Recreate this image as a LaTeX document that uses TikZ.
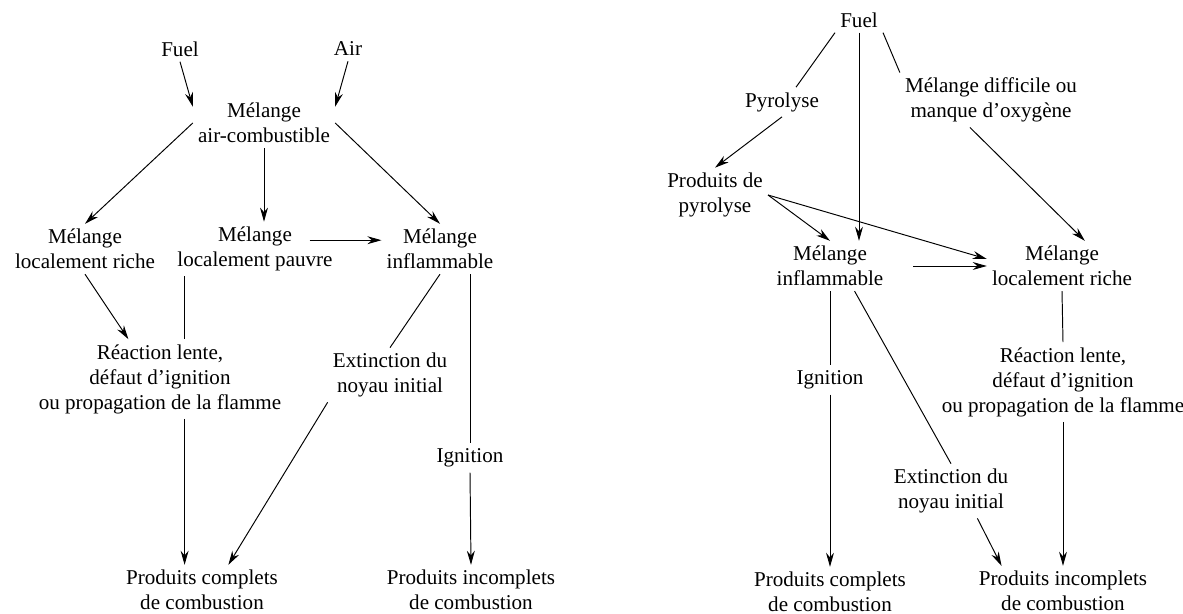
\documentclass[tikz,border=0pt]{standalone}
\usepackage{fontspec}
\setmainfont{Liberation Serif}
\usetikzlibrary{arrows.meta}

\begin{document}
\begin{tikzpicture}[x=0.02cm,y=-0.02cm,
    txt/.style={align=center,inner sep=0pt,outer sep=3pt,font=\fontsize{12pt}{14.2pt}\selectfont},
    trait/.style={line width=0.55pt},
    fleche/.style={trait,-{Stealth[length=8pt,width=4.5pt]}}]
    \useasboundingbox (0,0) rectangle (1183,614);
    % schema de gauche
    \begin{scope}
	\node[txt] (fuelG) at (180,49) {Fuel};
	\node[txt] (air) at (348,49) {Air};
	\node[txt] (melange) at (264,123) {Mélange\\air-combustible};
	\node[txt] (riche) at (85,249) {Mélange\\localement riche};
	\node[txt] (pauvre) at (255,249) {Mélange\\localement pauvre};
	\node[txt] (inflam) at (440,249) {Mélange\\inflammable};
	\node[txt] (reaction) at (160,379) {Réaction lente,\\défaut d’ignition\\ou propagation de la flamme};
	\node[txt] (extinction) at (390,375) {Extinction du\\noyau initial};
	\node[txt] (ignition) at (470,458) {Ignition};
	\node[txt] (complets) at (202,590) {Produits complets\\de combustion};
	\node[txt] (incomplets) at (471,590) {Produits incomplets\\de combustion};
	\draw[fleche] (fuelG.south) -- ([yshift=-5pt]melange.north west);
	\draw[fleche] (air.south) -- ([yshift=-5pt]melange.north east);
	\draw[fleche] (melange.west) -- (riche.north);
	\draw[fleche] (melange.south) -- (melange.south |- pauvre.north);
	\draw[fleche] (melange.east) -- (inflam.north);
	\draw[fleche] ([xshift=-16pt,yshift=5pt]pauvre.east) -- ([yshift=5pt]inflam.west);
	\draw[fleche] (riche.south) -- ([xshift=-18pt]reaction.north);
	\draw[trait] ([xshift=-40pt]pauvre.south) -- ([xshift=-40pt]pauvre.south |- reaction.north);
	\draw[fleche] ([xshift=14pt]reaction.south) -- ([xshift=14pt]reaction.south |- complets.north);
	\draw[trait] (inflam.south) -- (extinction.north);
	\draw[fleche] (extinction.south west) -- ([xshift=15pt]complets.north);
	\draw[trait] (inflam.south -| ignition.north) -- (ignition.north);
	\draw[fleche] (ignition.south) -- (incomplets.north);
    \end{scope}
    % schema de droite
    \begin{scope}
	\node[txt] (fuelD) at (859,20) {Fuel};
	\node[txt] (pyrolyse) at (782,102) {Pyrolyse};
	\node[txt] (difficile) at (991,100) {Mélange difficile ou\\manque d’oxygène};
	\node[txt] (prodpyro) at (715,195) {Produits de\\pyrolyse};
	\node[txt] (inflamD) at (830,266) {Mélange\\inflammable};
	\node[txt] (richeD) at (1062,266) {Mélange\\localement riche};
	\node[txt] (ignitionD) at (830,380) {Ignition};
	\node[txt] (reactionD) at (1063,382) {Réaction lente,\\défaut d’ignition\\ou propagation de la flamme};
	\node[txt] (extinctionD) at (951,491) {Extinction du\\noyau initial};
	\node[txt] (completsD) at (830,592) {Produits complets\\de combustion};
	\node[txt] (incompletsD) at (1063,591) {Produits incomplets\\de combustion};
	\draw[trait] (fuelD.south west) -- ([xshift=8pt]pyrolyse.north);
	\draw[fleche] (fuelD.south) -- (fuelD.south |- inflamD.north);
	\draw[trait] (fuelD.south east) -- (difficile.north west);
	\draw[fleche] (pyrolyse.south) -- (prodpyro.north);
	\draw[fleche] (prodpyro.east) -- (inflamD.north);
	\draw[fleche] (prodpyro.east) -- ([yshift=4pt]richeD.west);
	\draw[fleche] ([xshift=14pt]inflamD.east) -- (richeD.west);
	\draw[fleche] ([xshift=-12pt]difficile.south) -- ([xshift=13pt]richeD.north);
	\draw[trait] (inflamD.south) -- (ignitionD.north);
	\draw[fleche] (ignitionD.south) -- (completsD.north);
	\draw[trait] ([xshift=14pt]inflamD.south) -- (extinctionD.north);
	\draw[fleche] ([xshift=15pt]extinctionD.south) -- ([xshift=-35pt]incompletsD.north);
	\draw[trait] (richeD.south) -- (reactionD.north);
	\draw[fleche] (reactionD.south) -- (incompletsD.north);
    \end{scope}
\end{tikzpicture}
\end{document}
